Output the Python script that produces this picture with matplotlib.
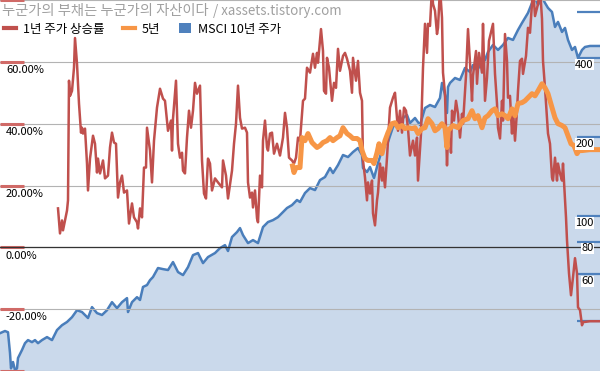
import matplotlib
matplotlib.use('Agg')
import matplotlib.pyplot as plt
import matplotlib.transforms as mtransforms
from matplotlib.lines import Line2D
from matplotlib.patches import Patch
from matplotlib.ticker import NullLocator

plt.rcParams['font.family'] = ['Noto Sans CJK KR', 'DejaVu Sans']

# 1-year return (%), by period
red_t = [58, 60, 62, 63, 65, 67, 68, 69, 70, 72,
         74, 75, 77, 79, 81, 82, 83, 85, 87, 88,
         90, 93, 95, 97, 98, 100, 103, 105, 108, 110,
         112, 114, 116, 118, 120, 122, 124, 127, 129, 132,
         134, 137, 138, 140, 142, 144, 146, 147, 150, 152,
         154, 157, 160, 163, 165, 168, 171, 172, 173, 176,
         178, 180, 182, 183, 185, 187, 189, 191, 193, 195,
         197, 200, 202, 204, 206, 208, 210, 212, 215, 218,
         222, 223, 226, 228, 232, 234, 236, 238, 240, 242,
         245, 247, 248, 250, 252, 253, 255, 257, 258, 260,
         262, 263, 265, 267, 268, 270, 272, 274, 277, 280,
         283, 285, 287, 289, 292, 294, 296, 298, 300, 303,
         305, 307, 310, 313, 315, 317, 318, 321, 323, 324,
         326, 327, 329, 332, 334, 336, 338, 340, 343, 345,
         347, 350, 352, 353, 356, 358, 360, 362, 363, 365,
         367, 368, 370, 372, 373, 375, 377, 378, 380, 382,
         383, 385, 387, 390, 393, 395, 397, 398, 400, 402,
         404, 406, 408, 410, 413, 415, 417, 418, 421, 423,
         425, 427, 428, 430, 432, 433, 435, 437, 438, 440,
         442, 443, 445, 447, 448, 450, 451, 452, 454, 456,
         458, 460, 462, 463, 466, 468, 470, 472, 473, 476,
         477, 479, 482, 483, 485, 487, 489, 492, 493, 495,
         497, 498, 500, 502, 503, 505, 507, 508, 510, 512,
         513, 515, 517, 518, 520, 522, 523, 526, 528, 530,
         532, 533, 535, 537, 538, 540, 542, 543, 545, 547,
         548, 550, 552, 553, 555, 557, 558, 560, 562, 563,
         565, 566, 567, 569, 571, 573, 575, 577, 578, 580,
         582, 583, 590, 600]
red_pct = [12.6, 4.5, 8.7, 5.5, 8.7, 11.9, 15.2, 53.9, 49.0, 50.6,
           58.1, 67.7, 59.4, 46.5, 37.1, 38.7, 36.8, 38.4, 27.1, 18.4,
           28.7, 36.1, 33.5, 24.2, 28.7, 23.9, 28.1, 22.3, 23.2, 32.3,
           37.1, 33.9, 33.5, 16.1, 21.0, 23.2, 17.7, 18.4, 7.7, 14.2,
           9.7, 8.1, 6.1, 12.6, 9.7, 25.8, 25.8, 38.7, 31.3, 21.0,
           34.5, 45.2, 51.3, 48.1, 47.4, 37.7, 41.0, 31.3, 41.6, 53.9,
           33.5, 29.0, 30.6, 24.8, 23.9, 35.5, 44.2, 38.7, 44.2, 53.2,
           49.7, 52.3, 28.1, 17.4, 15.8, 28.7, 27.1, 18.4, 22.3, 21.0,
           19.4, 28.1, 23.2, 15.8, 24.8, 33.5, 40.0, 52.3, 41.9, 38.4,
           38.7, 37.1, 21.0, 16.1, 17.7, 12.9, 18.4, 9.4, 8.1, 23.2,
           19.4, 34.5, 41.0, 32.3, 31.3, 36.8, 37.1, 30.3, 33.5, 29.7,
           35.5, 43.5, 38.7, 29.0, 28.1, 27.1, 29.0, 35.5, 34.5, 47.4,
           48.1, 58.1, 56.5, 62.6, 58.1, 62.9, 59.7, 70.6, 63.5, 50.6,
           49.7, 61.3, 58.1, 47.4, 53.2, 51.6, 64.2, 57.1, 61.9, 62.9,
           61.0, 57.1, 50.0, 61.3, 53.9, 60.3, 50.0, 47.4, 28.1, 22.6,
           15.2, 21.0, 17.4, 21.6, 11.0, 7.1, 15.2, 17.7, 27.1, 21.6,
           25.8, 19.4, 29.0, 45.2, 48.4, 50.0, 41.9, 37.7, 44.2, 37.1,
           45.2, 44.2, 38.4, 29.7, 34.5, 29.7, 35.5, 21.6, 36.8, 58.1,
           72.3, 62.9, 72.3, 71.6, 84.0, 78.7, 76.5, 69.0, 71.0, 84.0,
           74.2, 56.5, 49.7, 26.5, 35.5, 34.5, 30.6, 44.2, 41.0, 47.4,
           43.2, 35.5, 43.2, 40.0, 55.5, 70.6, 59.7, 47.4, 55.5, 63.5,
           52.9, 62.9, 56.5, 72.3, 47.4, 54.8, 66.8, 71.0, 72.3, 56.1,
           46.5, 38.7, 35.2, 47.4, 41.0, 69.0, 60.3, 48.4, 49.0, 36.8,
           44.2, 34.5, 44.2, 50.6, 60.3, 61.0, 56.1, 61.9, 71.0, 69.4,
           78.7, 84.0, 74.8, 77.4, 78.7, 84.0, 73.9, 60.3, 51.6, 41.9,
           36.8, 33.5, 22.6, 21.6, 29.0, 21.6, 27.1, 23.9, 21.6, 27.1,
           15.2, 9.7, 2.3, -8.4, -15.5, -9.7, -3.5, -8.4, -19.4, -20.3,
           -25.2, -24.2, -23.9, -23.9]

# 5-year return (%)
orange_t = [292, 294, 296, 300, 302, 305, 308, 312, 317, 320,
            323, 327, 330, 333, 337, 340, 343, 347, 350, 353,
            357, 360, 362, 365, 368, 372, 374, 377, 379, 382,
            385, 388, 392, 395, 398, 402, 405, 408, 412, 415,
            418, 422, 425, 428, 432, 435, 438, 442, 445, 447,
            448, 450, 453, 458, 463, 468, 472, 475, 478, 482,
            485, 488, 492, 495, 498, 502, 505, 508, 512, 515,
            518, 522, 525, 528, 532, 535, 538, 542, 545, 548,
            552, 555, 558, 562, 565, 568, 571, 574, 577, 579,
            582, 590, 600]
orange_pct = [27.1, 24.2, 25.8, 25.8, 35.5, 34.5, 36.8, 33.9, 32.3, 32.9,
              33.9, 34.5, 35.5, 34.5, 35.5, 36.1, 38.7, 36.8, 36.1, 35.2,
              35.2, 34.5, 31.3, 28.7, 28.1, 28.1, 27.1, 30.6, 33.5, 30.3,
              34.5, 37.1, 40.0, 40.3, 38.7, 39.4, 38.4, 38.7, 38.4, 38.7,
              36.8, 38.4, 38.7, 41.6, 40.0, 37.7, 38.4, 40.0, 38.7, 32.3,
              37.7, 38.4, 39.4, 38.7, 41.0, 41.6, 44.2, 41.6, 42.6, 38.7,
              41.9, 42.6, 44.2, 44.8, 42.6, 43.2, 42.6, 41.6, 44.8, 42.6,
              46.5, 46.8, 47.4, 48.4, 49.7, 49.0, 50.6, 52.9, 51.6, 49.7,
              45.2, 41.9, 40.0, 39.4, 38.7, 36.1, 33.5, 32.9, 30.3, 31.3,
              31.3, 31.6, 31.6]

# MSCI 10-year price (right axis, log)
blue_t = [0, 5, 8, 10, 11, 13, 15, 17, 18, 22,
          25, 28, 32, 35, 38, 42, 47, 52, 57, 62,
          67, 72, 77, 82, 88, 92, 97, 102, 107, 112,
          117, 122, 127, 128, 132, 137, 140, 143, 147, 150,
          153, 158, 163, 168, 173, 178, 183, 188, 193, 198,
          203, 208, 215, 220, 225, 228, 232, 237, 240, 243,
          248, 253, 258, 263, 268, 273, 278, 282, 287, 292,
          297, 300, 305, 310, 315, 320, 325, 330, 333, 338,
          343, 348, 353, 358, 362, 363, 367, 370, 374, 378,
          383, 388, 393, 397, 400, 403, 407, 410, 415, 420,
          425, 430, 435, 440, 442, 445, 447, 448, 450, 455,
          460, 465, 470, 473, 477, 482, 485, 488, 493, 498,
          503, 508, 513, 518, 522, 525, 528, 532, 535, 538,
          542, 545, 548, 552, 555, 558, 562, 565, 568, 572,
          575, 578, 582, 585, 590, 600]
blue_val = [35.8, 36.5, 36.1, 30.1, 26.3, 27.8, 25.9, 26.3, 28.8, 30.9,
            32.8, 33.7, 33.1, 33.7, 32.8, 33.7, 34.6, 33.7, 36.8, 38.4,
            39.5, 41.2, 43.8, 43.1, 40.9, 45.0, 42.7, 42.0, 43.8, 47.0,
            44.6, 47.0, 48.7, 43.1, 47.0, 49.1, 47.9, 53.7, 54.6, 57.0,
            58.6, 63.4, 62.8, 62.3, 66.8, 61.2, 59.6, 63.9, 71.0, 72.3,
            66.2, 69.8, 72.3, 75.5, 77.5, 73.6, 83.2, 86.9, 90.0, 84.6,
            78.9, 81.0, 78.9, 90.8, 94.9, 96.5, 99.1, 102.7, 107.3, 110.1,
            115.1, 113.1, 122.4, 127.8, 125.6, 137.1, 140.8, 152.4, 145.8, 156.4,
            170.8, 167.8, 175.3, 181.6, 170.8, 152.4, 147.1, 153.7, 139.6, 159.2,
            183.2, 191.4, 218.4, 228.1, 218.4, 236.3, 242.6, 226.1, 236.3, 222.2,
            257.9, 264.8, 260.2, 281.6, 321.3, 289.1, 246.9, 310.1, 321.3, 335.6,
            329.8, 366.4, 353.8, 376.1, 360.0, 382.9, 393.1, 421.6, 448.4, 429.1,
            448.4, 476.7, 468.5, 511.4, 543.8, 568.1, 593.7, 648.1, 680.0, 636.9,
            680.0, 648.1, 620.3, 598.8, 525.0, 548.7, 502.5, 520.5, 468.5, 429.1,
            440.5, 400.0, 429.1, 440.5, 444.4, 444.4]

left_ticks = [-40, -20, 0, 20, 40, 60, 80]
left_labels = [-20, 0, 20, 40, 60]
right_ticks = [40, 60, 80, 100, 200, 400, 600]
right_labels = [60, 80, 100, 200, 400]

series_names = ['1년 주가 상승률', '5년', 'MSCI 10년 주가']
title_ko = '누군가의 부채는 누군가의 자산이다'
title_url = '/ xassets.tistory.com'

RED = '#c0504d'
ORANGE = '#f79646'
BLUE = '#4a7ebb'

fig = plt.figure(figsize=(6, 3.71), dpi=100)
ax = fig.add_axes([0, 0, 1, 1])
ax2 = ax.twinx()
ax.set_zorder(ax2.get_zorder() + 1)
ax.patch.set_visible(False)

# right axis: price area
ax2.set_yscale('log')
ax2.fill_between(blue_t, blue_val, 1, color='#cad9eb', lw=0)
ax2.plot(blue_t, blue_val, color=BLUE, lw=1.8)
ax2.set_ylim(25.7, 665)
ax2.set_yticks(right_ticks)
ax2.yaxis.set_minor_locator(NullLocator())
ax2.tick_params(axis='y', which='both', direction='in', length=16.5, width=1.6,
                color='#4f81bd', labelright=False)

# left axis: returns
ax.plot(red_t, red_pct, color=RED, lw=1.8)
ax.plot(orange_t, orange_pct, color=ORANGE, lw=3.6, solid_capstyle='butt')
ax.set_xlim(0, 600)
ax.set_ylim(-40, 80)
ax.set_yticks(left_ticks)
ax.yaxis.grid(True, color='#b3b3b3', lw=0.8)
ax.axhline(0, color='#333333', lw=0.9)
ax.tick_params(axis='y', direction='in', length=17, width=2.2, color='#d06a67',
               labelleft=False)
for a in (ax, ax2):
    a.tick_params(axis='x', bottom=False, labelbottom=False)
    for s in a.spines.values():
        s.set_visible(False)

for v in left_labels:
    ax.annotate(f'{v:.2f}%', xy=(0, v), xycoords=('axes fraction', 'data'),
                xytext=(4.3, -6), textcoords='offset points',
                ha='left', va='center', fontsize=8, color='black')

blend = mtransforms.blended_transform_factory(ax.transAxes, ax2.transData)
for v in right_labels:
    ax.annotate(str(v), xy=(1, v), xycoords=blend,
                xytext=(-4.5, -5), textcoords='offset points',
                ha='right', va='center', fontsize=8, color='black',
                bbox=dict(boxstyle='square,pad=0.05', fc='white', ec='none'))

# watermark title (hangul part set a bit larger to match the wide glyphs)
t1 = fig.text(0.003, 1 - 11 / 371, title_ko, fontsize=10.3, color='#a0a0a0',
              ha='left', va='center')
ax.annotate(title_url, xy=(1, 0.5), xycoords=t1, xytext=(3.5, 0),
            textcoords='offset points', fontsize=9.6, color='#a0a0a0',
            ha='left', va='center', annotation_clip=False)

handles = [Line2D([], [], color=RED, lw=3),
           Line2D([], [], color=ORANGE, lw=3),
           Patch(facecolor='#4f81bd', edgecolor='none')]
fig.legend(handles, series_names, loc='center left',
           bbox_to_anchor=(0.004, 1 - 29 / 371), ncol=3, frameon=False, fontsize=9,
           handlelength=0.95, handleheight=0.9, handletextpad=0.55,
           columnspacing=1.5, borderpad=0.15, borderaxespad=0)

fig.savefig('out.png', dpi=100)
